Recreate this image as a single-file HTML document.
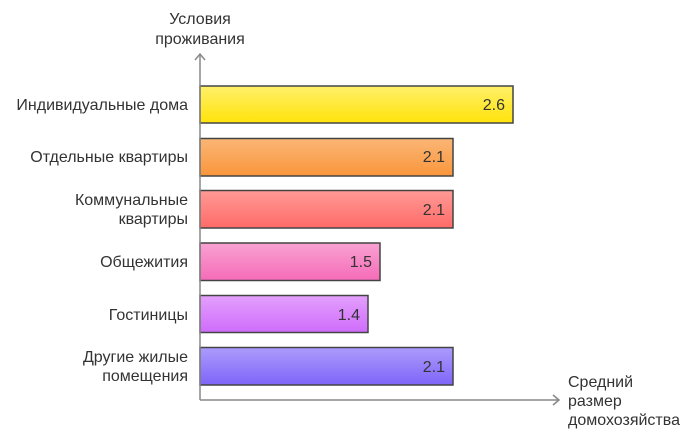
<!DOCTYPE html>
<html><head><meta charset="utf-8"><style>
html,body{margin:0;padding:0;background:#fff;}
svg{display:block;font-family:"Liberation Sans",sans-serif;}
</style></head><body>
<svg width="700" height="438" viewBox="0 0 700 438">
<defs>
<linearGradient id="g1" x1="0" y1="0" x2="0" y2="1"><stop offset="0" stop-color="#fff06a"/><stop offset="1" stop-color="#ffe30a"/></linearGradient>
<linearGradient id="g2" x1="0" y1="0" x2="0" y2="1"><stop offset="0" stop-color="#fbb676"/><stop offset="1" stop-color="#f9963c"/></linearGradient>
<linearGradient id="g3" x1="0" y1="0" x2="0" y2="1"><stop offset="0" stop-color="#ff9a96"/><stop offset="1" stop-color="#ff6b68"/></linearGradient>
<linearGradient id="g4" x1="0" y1="0" x2="0" y2="1"><stop offset="0" stop-color="#f9a2d2"/><stop offset="1" stop-color="#f56bb8"/></linearGradient>
<linearGradient id="g5" x1="0" y1="0" x2="0" y2="1"><stop offset="0" stop-color="#e3a0fc"/><stop offset="1" stop-color="#cf6cfb"/></linearGradient>
<linearGradient id="g6" x1="0" y1="0" x2="0" y2="1"><stop offset="0" stop-color="#ac9cfc"/><stop offset="1" stop-color="#7f64f8"/></linearGradient>
</defs>
<g stroke="#444" stroke-width="1.5">
<rect x="200" y="86" width="313" height="37" fill="url(#g1)"/>
<rect x="200" y="138.5" width="253" height="37.5" fill="url(#g2)"/>
<rect x="200" y="190.5" width="253" height="37.5" fill="url(#g3)"/>
<rect x="200" y="243" width="180" height="37.5" fill="url(#g4)"/>
<rect x="200" y="295.5" width="168" height="37" fill="url(#g5)"/>
<rect x="200" y="347.5" width="253" height="37.5" fill="url(#g6)"/>
</g>
<g stroke="#888" stroke-width="1.5" fill="none">
<line x1="200" y1="54" x2="200" y2="400"/>
<polyline points="195,60 200,54 205,60"/>
<line x1="200" y1="400" x2="559" y2="400"/>
<polyline points="553,395 559,400 553,405"/>
</g>
<g font-size="16" fill="#333" text-anchor="end">
<text x="505" y="110">2.6</text>
<text x="445" y="162">2.1</text>
<text x="445" y="215">2.1</text>
<text x="372" y="267">1.5</text>
<text x="360" y="320">1.4</text>
<text x="445" y="372">2.1</text>
</g>
<g font-size="16" fill="#333" text-anchor="end">
<text x="188" y="110">Индивидуальные дома</text>
<text x="188" y="162">Отдельные квартиры</text>
<text x="188" y="205">Коммунальные</text>
<text x="188" y="224">квартиры</text>
<text x="188" y="267">Общежития</text>
<text x="188" y="320">Гостиницы</text>
<text x="188" y="362">Другие жилые</text>
<text x="188" y="381">помещения</text>
</g>
<g font-size="16" fill="#333" text-anchor="middle">
<text x="200" y="24">Условия</text>
<text x="200" y="44">проживания</text>
</g>
<g font-size="16" fill="#333">
<text x="568" y="387">Средний</text>
<text x="568" y="406">размер</text>
<text x="568" y="425">домохозяйства</text>
</g>
</svg>
</body></html>
